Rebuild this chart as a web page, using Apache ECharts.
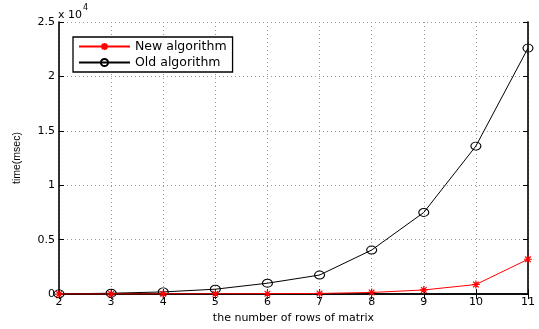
<!DOCTYPE html>
<html>
<head>
<meta charset="utf-8">
<script src="https://cdn.jsdelivr.net/npm/echarts@6/dist/echarts.min.js"></script>
<style>html,body{margin:0;padding:0;background:#fff}#c{width:539px;height:329px}</style>
</head>
<body>
<div id="c"></div>
<script>
var rows = [2, 3, 4, 5, 6, 7, 8, 9, 10, 11];
var newAlgorithm = [5, 10, 20, 30, 40, 60, 150, 380, 880, 3200];
var oldAlgorithm = [20, 80, 200, 450, 1000, 1750, 4050, 7500, 13600, 22600];
var seriesNames = ['New algorithm', 'Old algorithm'];
var xTitle = 'the number of rows of matrix';
var yTitle = 'time(msec)';

function pairs(xs, ys) { return xs.map(function (x, i) { return [x, ys[i]]; }); }

var tickFont = { fontFamily: 'DejaVu Sans', fontSize: 11, color: '#000' };
var chart = echarts.init(document.getElementById('c'), null, { renderer: 'canvas' });
var star = 'path://M0,-10L0,10M-10,0L10,0M-7,-7L7,7M-7,7L7,-7';
var frame = { show: true, lineStyle: { color: '#000', width: 1.6 } };
var tick = { show: true, inside: true, length: 5, lineStyle: { color: '#000', width: 1 } };
chart.setOption({
  animation: false,
  backgroundColor: '#fff',
  grid: { left: 59, right: 11, top: 22, bottom: 30, containLabel: false },
  xAxis: [{
    type: 'value', min: 2, max: 11, interval: 1,
    name: xTitle, nameLocation: 'middle', nameGap: 17,
    nameTextStyle: { fontFamily: 'DejaVu Sans', fontSize: 11, color: '#000' },
    axisLine: frame, axisTick: tick,
    axisLabel: Object.assign({ margin: 3 }, tickFont),
    splitLine: { show: true, lineStyle: { color: '#999', type: [1, 3], width: 1 } }
  }, {
    type: 'value', min: 2, max: 11, interval: 1, position: 'top',
    axisLine: frame, axisTick: tick,
    axisLabel: { show: false }, splitLine: { show: false }
  }],
  yAxis: [{
    type: 'value', min: 0, max: 25000, interval: 5000,
    name: yTitle, nameLocation: 'middle', nameGap: 36, nameRotate: 90,
    nameTextStyle: { fontFamily: 'Liberation Sans', fontSize: 10.5, color: '#000' },
    axisLine: frame, axisTick: tick,
    axisLabel: Object.assign({ margin: 4, formatter: function (v) { return String(v / 10000); } }, tickFont),
    splitLine: { show: true, lineStyle: { color: '#999', type: [1, 3], width: 1 } }
  }, {
    type: 'value', min: 0, max: 25000, interval: 5000, position: 'right',
    axisLine: frame, axisTick: tick,
    axisLabel: { show: false }, splitLine: { show: false }
  }],
  legend: {
    orient: 'vertical', left: 73, top: 37,
    padding: [3, 6, 3, 5], itemGap: 3, itemWidth: 51, itemHeight: 9,
    backgroundColor: '#fff', borderColor: '#000', borderWidth: 1.3, borderRadius: 0,
    textStyle: { fontFamily: 'DejaVu Sans', fontSize: 12.5, lineHeight: 13, color: '#000' },
    data: seriesNames
  },
  graphic: [{
    type: 'text', left: 58, top: 4,
    style: {
      text: '{a|x 10}{b|4}',
      rich: {
        a: { fontFamily: 'DejaVu Sans', fontSize: 11, fill: '#000', verticalAlign: 'bottom', padding: [6, 0, 0, 0] },
        b: { fontFamily: 'DejaVu Sans', fontSize: 8, fill: '#000', verticalAlign: 'top', padding: [0, 0, 7, 1] }
      }
    }
  }],
  series: [{
    name: seriesNames[1], type: 'line', z: 2,
    data: pairs(rows, oldAlgorithm),
    symbol: 'circle', symbolSize: [10, 8],
    lineStyle: { color: '#000', width: 1 },
    itemStyle: { color: 'rgba(0,0,0,0)', borderColor: '#000', borderWidth: 1 }
  }, {
    name: seriesNames[0], type: 'line', z: 3,
    data: pairs(rows, newAlgorithm),
    symbol: star, symbolSize: 8,
    lineStyle: { color: '#ff0000', width: 1 },
    itemStyle: { color: '#ff0000', borderColor: '#ff0000', borderWidth: 1.2 }
  }]
});
</script>
</body>
</html>
